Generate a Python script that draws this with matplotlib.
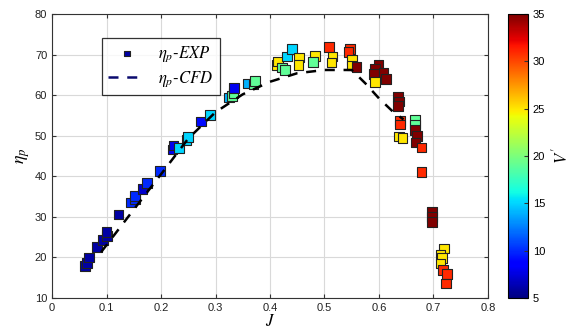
import numpy as np
import matplotlib
matplotlib.use("Agg")
import matplotlib.pyplot as plt

plt.rcParams['font.family'] = ['Liberation Sans', 'DejaVu Sans']
plt.rcParams['mathtext.fontset'] = 'stix'

# Experimental points: advance ratio J, efficiency eta_p, colour value V'
exp_J = [0.061, 0.064, 0.068, 0.083, 0.093, 0.101, 0.100, 0.122, 0.145, 0.152,
         0.152, 0.166, 0.174, 0.198, 0.221, 0.223, 0.233, 0.247, 0.250, 0.273,
         0.290, 0.325, 0.330, 0.333, 0.334, 0.360, 0.370, 0.372, 0.412, 0.415,
         0.422, 0.428, 0.431, 0.440, 0.453, 0.452, 0.483, 0.479, 0.508, 0.515,
         0.513, 0.547, 0.544, 0.550, 0.551, 0.559, 0.599, 0.593, 0.591, 0.608,
         0.613, 0.593, 0.635, 0.637, 0.635, 0.639, 0.639, 0.637, 0.643, 0.666,
         0.666, 0.666, 0.670, 0.667, 0.678, 0.678, 0.697, 0.697, 0.697, 0.719,
         0.713, 0.716, 0.713, 0.718, 0.725, 0.723]
exp_eta = [17.9, 18.7, 20.0, 22.5, 24.3, 25.3, 26.3, 30.6, 33.5, 34.3,
           35.1, 36.9, 38.3, 41.3, 46.6, 47.6, 47.0, 48.9, 49.7, 53.5,
           55.1, 59.4, 59.8, 60.6, 61.7, 62.9, 62.8, 63.5, 67.4, 68.3,
           66.8, 66.2, 69.5, 71.3, 69.3, 67.5, 69.6, 68.1, 71.9, 69.5,
           68.0, 71.3, 70.7, 68.7, 67.3, 66.9, 67.4, 66.5, 65.2, 65.4,
           63.9, 63.3, 59.6, 58.4, 57.3, 53.7, 52.8, 49.8, 49.4, 53.9,
           52.8, 51.4, 50.0, 48.3, 47.1, 41.1, 31.3, 30.0, 28.8, 22.2,
           20.6, 19.8, 18.5, 16.9, 15.9, 13.6]
exp_V = [6, 6, 6, 6, 6, 6, 6, 6, 10, 10,
         10, 7, 10, 10, 8, 8, 15, 15, 15, 9,
         15, 14, 19, 19, 8, 14, 19, 19, 25, 25,
         19, 19, 15, 15, 25, 25, 25, 19, 31, 25,
         25, 31, 31, 25, 25, 35, 35, 35, 35, 35,
         35, 25, 35, 35, 35, 31, 31, 25, 25, 19,
         19, 35, 35, 35, 31, 31, 35, 35, 35, 25,
         25, 25, 25, 31, 31, 31]

# CFD curve
cfd_J = [0.09, 0.15, 0.20, 0.25, 0.30, 0.35, 0.40, 0.45, 0.50, 0.55, 0.575, 0.60, 0.625, 0.645]
cfd_eta = [21.3, 31.8, 40.5, 49.3, 55.8, 60.2, 63.3, 65.4, 66.2, 66.2, 62.9, 59.2, 56.0, 54.0]

x_ticks = [0, 0.1, 0.2, 0.3, 0.4, 0.5, 0.6, 0.7, 0.8]
y_ticks = [10, 20, 30, 40, 50, 60, 70, 80]
cb_ticks = [5, 10, 15, 20, 25, 30, 35]

fig = plt.figure(figsize=(5.71, 3.33), dpi=100)
ax = fig.add_axes([0.0911, 0.1051, 0.7635, 0.8529])
cax = fig.add_axes([0.8897, 0.1051, 0.035, 0.8529])

sc = ax.scatter(exp_J, exp_eta, c=exp_V, cmap='jet', vmin=5, vmax=35,
                marker='s', s=48, edgecolors='#222222', linewidths=0.8,
                zorder=3, label=r'$\eta_p$-$EXP$')
ax.plot(cfd_J, cfd_eta, linestyle=(0, (4, 3.5)), color='black', lw=1.8,
        zorder=4, label=r'$\eta_p$-$CFD$')

ax.set_xlim(0, 0.8)
ax.set_ylim(10, 80)
ax.set_xticks(x_ticks)
ax.set_xticklabels(['0', '0.1', '0.2', '0.3', '0.4', '0.5', '0.6', '0.7', '0.8'])
ax.set_yticks(y_ticks)
ax.grid(True, color='#d9d9d9', lw=0.8, zorder=0)
ax.set_axisbelow(True)
ax.tick_params(direction='in', top=True, right=True, labelsize=8, length=3,
               color='#333333', labelcolor='#222222')
for sp in ax.spines.values():
    sp.set_color('#333333')
    sp.set_linewidth(0.8)

ax.set_xlabel(r'$J$', fontsize=12, labelpad=0)
ax.set_ylabel(r'$\eta_p$', fontsize=13, labelpad=2)

leg = ax.legend(loc='upper left', bbox_to_anchor=(0.095, 0.945), fontsize=12,
                frameon=True, fancybox=False, edgecolor='black',
                handlelength=2.2, borderpad=0.4, labelspacing=0.3,
                markerscale=0.6)
leg.get_frame().set_linewidth(0.9)
for h in leg.legend_handles:
    try:
        h.set_color('#0a0a6e')
        h.set_edgecolor('#222222')
    except Exception:
        pass

cb = fig.colorbar(sc, cax=cax, ticks=cb_ticks)
cb.ax.tick_params(labelsize=8, direction='in', length=3, color='#333333')
cb.outline.set_linewidth(0.8)
cb.set_label(r"$V\,'$", fontsize=12, labelpad=4)

fig.savefig('out.png', dpi=100)
